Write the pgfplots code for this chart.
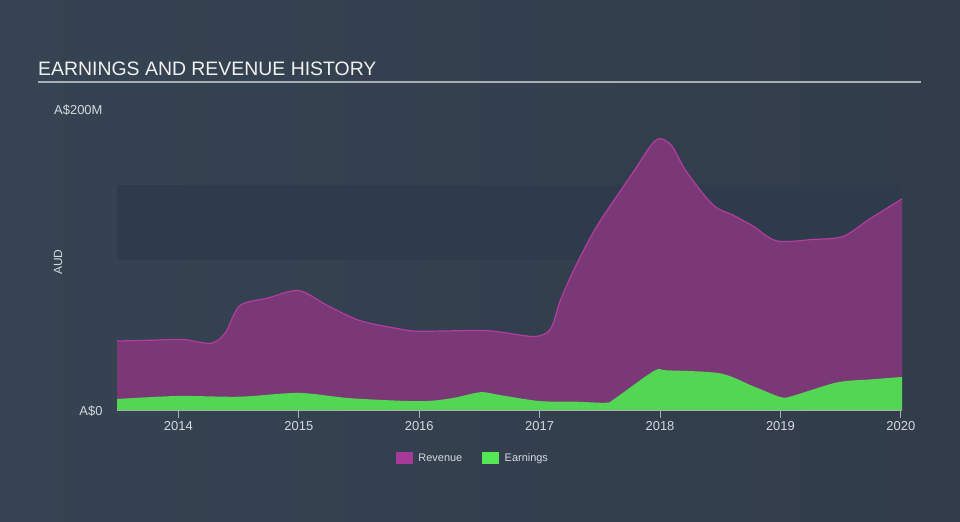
\documentclass[border=0pt]{standalone}
\usepackage{pgfplots}
\pgfplotsset{compat=1.18}
\usepackage{pgfplotstable}
\usepackage{fontspec}
\setmainfont{Liberation Sans}
\definecolor{bgL}{HTML}{354352}
\definecolor{bgR}{HTML}{323C4A}
\definecolor{band}{HTML}{2E3B4A}
\definecolor{revfill}{HTML}{7B3877}
\definecolor{revline}{HTML}{B23CA0}
\definecolor{earnfill}{HTML}{52D654}
\definecolor{swrev}{HTML}{A63A98}
\definecolor{swearn}{HTML}{55E655}
\definecolor{txt}{HTML}{D5D9DE}
\definecolor{rulec}{HTML}{A8AEB5}

\pgfplotstableread{
x y
2013.49 46.5
2013.77 47
2014.04 47.5
2014.27 45
2014.39 52
2014.51 70
2014.74 75
2015.00 80
2015.24 70
2015.51 60
2015.84 54.5
2016.00 53
2016.50 53.5
2016.67 52.5
2016.96 49.5
2017.09 54.5
2017.17 73
2017.25 88
2017.36 106
2017.50 126
2017.78 159
2017.92 176
2018.00 181
2018.10 176
2018.22 159
2018.44 137
2018.61 130
2018.77 123
2018.97 113
2019.27 114
2019.52 116
2019.74 127.5
2020.01 141
}\revenue

\pgfplotstableread{
x y
2013.49 8
2014.00 10
2014.51 9.5
2015.00 12
2015.43 8.5
2016.00 6.5
2016.27 8.5
2016.51 12.5
2016.67 10.6
2017.00 6.6
2017.30 6.2
2017.55 5.5
2017.62 8
2017.95 26.6
2018.06 27
2018.50 25
2018.77 16.6
2019.00 9.3
2019.10 10
2019.47 19
2019.75 21
2020.01 22.6
}\earnings

\begin{document}
\begin{tikzpicture}
\shade[left color=bgL, right color=bgR] (0bp,0bp) rectangle (960bp,522bp);
\node[anchor=base west, font=\fontsize{19.5}{23}\selectfont, text=white!94!black, inner sep=0] at (38bp,446bp) {EARNINGS AND REVENUE HISTORY};
\draw[rulec, line width=1.5bp] (38bp,440bp) -- (921bp,440bp);
\node[rotate=90, text=txt, font=\fontsize{12}{14}\selectfont] at (58bp,260bp) {AUD};
\begin{axis}[
  at={(117bp,111bp)}, anchor=south west,
  scale only axis, width=785bp, height=301bp,
  xmin=2013.49, xmax=2020.01, ymin=0, ymax=200,
  axis x line*=bottom, axis y line*=left,
  y axis line style={draw=none},
  x axis line style={draw=rulec, line width=1bp, -},
  xtick={2014,2015,2016,2017,2018,2019,2020},
  xticklabel style={/pgf/number format/1000 sep={}},
  /pgf/number format/assume math mode=true,
  tick align=outside,
  xtick style={draw=rulec, line width=1bp},
  major tick length=7bp,
  ytick={0,200}, yticklabels={A\$0,A\$200M},
  ytick style={draw=none},
  yticklabel style={xshift=-4bp},
  tick label style={text=txt, font=\fontsize{13}{15}\selectfont},
  axis on top,
  legend style={at={(rel axis cs:0.4535,0)}, anchor=center, yshift=-47bp,
    draw=none, fill=none, text=txt, font=\fontsize{11}{13}\selectfont,
    /tikz/every odd column/.append style={column sep=4bp},
    /tikz/every even column/.append style={column sep=18bp}},
  legend columns=2,
  legend cell align=left,
]
\fill[band] (axis cs:2013.49,100) rectangle (axis cs:2020.01,150);
\addplot[draw=none, fill=revfill, smooth, forget plot] table {\revenue} \closedcycle;
\addplot[revline, line width=1.2bp, smooth, forget plot] table {\revenue};
\addplot[draw=none, fill=earnfill, smooth, forget plot] table {\earnings} \closedcycle;
\addlegendimage{legend image code/.code={\fill[swrev] (0bp,-5.5bp) rectangle (16bp,5.5bp);}}
\addlegendentry{Revenue}
\addlegendimage{legend image code/.code={\fill[swearn] (0bp,-5.5bp) rectangle (16bp,5.5bp);}}
\addlegendentry{Earnings}
\end{axis}
\end{tikzpicture}
\end{document}
